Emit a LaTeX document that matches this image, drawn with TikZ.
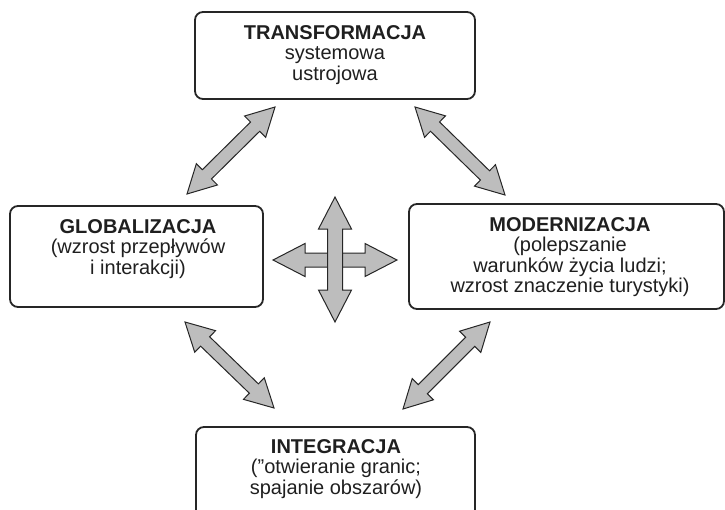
\documentclass[tikz,border=0pt]{standalone}
\usepackage{fontspec}
\setmainfont{Liberation Sans}
\usetikzlibrary{calc}
\definecolor{arrgray}{HTML}{BDBDBD}
\definecolor{edgecol}{HTML}{262626}
% #1,#2 end points, #3 head length, #4 head half-width, #5 shaft half-width
\newcommand\biarrow[5]{%
  \draw[arrowshape] (#1)
    -- ($(#1)!#3!(#2)!#4!90:(#2)$)
    -- ($(#1)!#3!(#2)!#5!90:(#2)$)
    -- ($(#2)!#3!(#1)!#5!-90:(#1)$)
    -- ($(#2)!#3!(#1)!#4!-90:(#1)$)
    -- (#2)
    -- ($(#2)!#3!(#1)!#4!90:(#1)$)
    -- ($(#2)!#3!(#1)!#5!90:(#1)$)
    -- ($(#1)!#3!(#2)!#5!-90:(#2)$)
    -- ($(#1)!#3!(#2)!#4!-90:(#2)$)
    -- cycle;}
\begin{document}
\begin{tikzpicture}[x=1pt,y=-1pt,
  box/.style={draw=edgecol, line width=1.8pt, rounded corners=8pt},
  txt/.style={align=center, font=\fontsize{20}{20.5}\selectfont, inner sep=0pt, text=black!88},
  arrowshape/.style={draw=edgecol, line width=1pt, fill=arrgray, line join=miter}]
\useasboundingbox (0,0) rectangle (725,509);
\clip (0,0) rectangle (725,509);
% boxes
\node[box, minimum width=280pt, minimum height=87pt] (trans) at (335,55.5) {};
\node[box, minimum width=253pt, minimum height=101pt] (glob) at (136.5,256.5) {};
\node[box, minimum width=315pt, minimum height=105pt] (mod) at (566.5,256.5) {};
\node[box, minimum width=279pt, minimum height=113pt] (integ) at (335.5,483.5) {};
% texts
\node[txt] (transt) at (335,55) {{\bfseries TRANSFORMACJA}\\systemowa\\ustrojowa};
\node[txt] (globt) at (138,249) {{\bfseries GLOBALIZACJA}\\(wzrost przepływów\\i interakcji)};
\node[txt] (modt) at (570,257) {{\bfseries MODERNIZACJA}\\(polepszanie\\warunków życia ludzi;\\wzrost znaczenie turystyki)};
\node[txt] (integt) at (336,469) {{\bfseries INTEGRACJA}\\(”otwieranie granic;\\spajanie obszarów)};
% arrow end points
\coordinate (tlA) at (275,107); \coordinate (tlB) at (187,194);
\coordinate (trA) at (415,107); \coordinate (trB) at (505,195);
\coordinate (blA) at (185,322); \coordinate (blB) at (274,408);
\coordinate (brA) at (490,322); \coordinate (brB) at (403,409);
\coordinate (hA) at (273,260); \coordinate (hB) at (397,260);
\coordinate (vA) at (335,197); \coordinate (vB) at (335,322);
\biarrow{tlA}{tlB}{28pt}{15pt}{6.5pt}
\biarrow{trA}{trB}{28pt}{15pt}{6.5pt}
\biarrow{blA}{blB}{28pt}{15pt}{6.5pt}
\biarrow{brA}{brB}{28pt}{15pt}{6.5pt}
\biarrow{hA}{hB}{32pt}{16.5pt}{7pt}
\biarrow{vA}{vB}{32pt}{16.5pt}{7.5pt}
\end{tikzpicture}
\end{document}
